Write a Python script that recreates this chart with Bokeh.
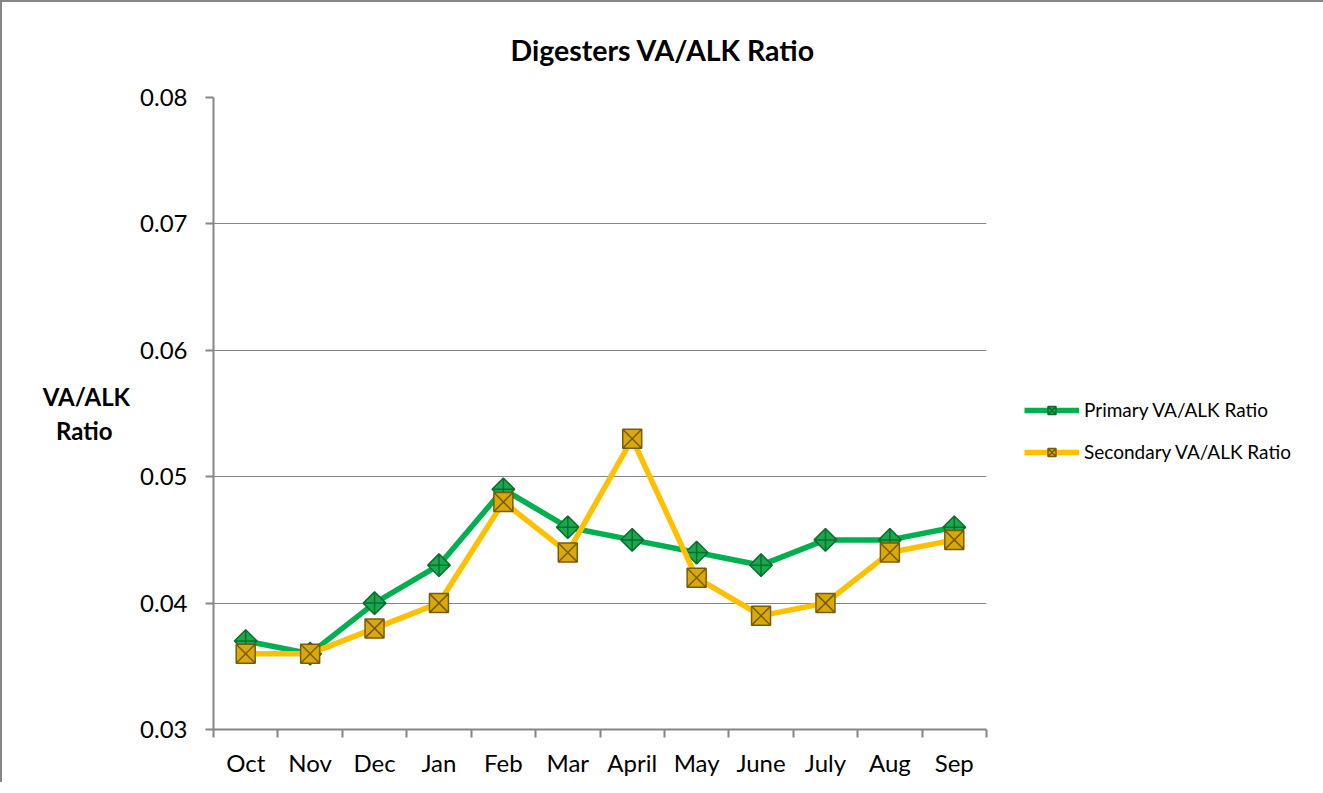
import math
from bokeh.plotting import figure
from bokeh.models import FixedTicker, Legend, LegendItem, NumeralTickFormatter, Range1d, ColumnDataSource
from bokeh.embed import file_html
from bokeh.resources import INLINE

months = ["Oct", "Nov", "Dec", "Jan", "Feb", "Mar", "April", "May", "June", "July", "Aug", "Sep"]
primary = [0.037, 0.036, 0.040, 0.043, 0.049, 0.046, 0.045, 0.044, 0.043, 0.045, 0.045, 0.046]
secondary = [0.036, 0.036, 0.038, 0.040, 0.048, 0.044, 0.053, 0.042, 0.039, 0.040, 0.044, 0.045]
y_ticks = [0.03, 0.04, 0.05, 0.06, 0.07, 0.08]

xpos = [i + 0.5 for i in range(len(months))]
src = ColumnDataSource(dict(x=xpos, month=months, primary=primary, secondary=secondary))

FONT = "Lato"
GRAY = "#868686"

p = figure(frame_width=773, frame_height=632, output_backend="svg", toolbar_location=None,
           x_range=Range1d(0, len(months)), y_range=Range1d(y_ticks[0], y_ticks[-1]),
           min_border_left=211, min_border_right=335, min_border_top=95, min_border_bottom=53,
           background_fill_color="white", border_fill_color="white")
p.styles = {"border-left": f"2px solid {GRAY}", "border-top": f"2px solid {GRAY}",
            "border-right": f"3px solid {GRAY}"}
p.outline_line_color = None

# title
p.title.text = "Digesters VA/ALK Ratio"
p.title.text_font = FONT
p.title.text_font_size = "28.5px"
p.title.text_font_style = "bold"
p.title.text_color = "black"
p.title.align = "left"
p.title.vertical_align = "top"
p.title.offset = 297
p.title.standoff = 58

# x axis
xt = FixedTicker(ticks=xpos, minor_ticks=list(range(len(months) + 1)))
p.xaxis.ticker = xt
p.xaxis.major_label_overrides = {x: m for x, m in zip(xpos, months)}
p.xaxis.major_tick_out = 0
p.xaxis.major_tick_in = 0
p.xaxis.minor_tick_out = 8
p.xaxis.minor_tick_in = 0
p.xaxis.minor_tick_line_color = GRAY
p.xaxis.minor_tick_line_width = 2
p.xaxis.axis_line_color = GRAY
p.xaxis.axis_line_width = 2
p.xaxis.major_label_text_font = FONT
p.xaxis.major_label_text_font_size = "24px"
p.xaxis.major_label_text_color = "black"
p.xaxis.major_label_standoff = 10
p.xgrid.visible = False

# y axis
p.yaxis.ticker = FixedTicker(ticks=y_ticks)
p.yaxis.formatter = NumeralTickFormatter(format="0.00")
p.yaxis.major_tick_out = 8
p.yaxis.major_tick_in = 0
p.yaxis.minor_tick_line_color = None
p.yaxis.major_tick_line_color = GRAY
p.yaxis.major_tick_line_width = 2
p.yaxis.axis_line_color = GRAY
p.yaxis.axis_line_width = 2
p.yaxis.major_label_text_font = FONT
p.yaxis.major_label_text_font_size = "24px"
p.yaxis.major_label_text_color = "black"
p.yaxis.major_label_standoff = 18
p.yaxis.axis_label = "VA/ALK\nRatio\u00a0\u00a0\u00a0"
p.yaxis.axis_label_orientation = "horizontal"
p.yaxis.axis_label_text_font = FONT
p.yaxis.axis_label_text_font_size = "24px"
p.yaxis.axis_label_text_font_style = "bold"
p.yaxis.axis_label_text_color = "black"
p.yaxis.axis_label_standoff = 7
p.ygrid.grid_line_color = GRAY
p.ygrid.grid_line_width = 1

# series
l1 = p.line("x", "primary", source=src, line_color="#00B050", line_width=5.5)
m1 = p.scatter("x", "primary", source=src, marker="square_x", size=16, angle=math.pi / 4,
               fill_color="#19A84C", line_color="#0B6E2F", line_width=1.5)
l2 = p.line("x", "secondary", source=src, line_color="#FFC000", line_width=5.5)
m2 = p.scatter("x", "secondary", source=src, marker="square_x", size=19,
               fill_color="#D9A90C", line_color="#7A5C00", line_width=1.5)

legend = Legend(items=[LegendItem(label="Primary VA/ALK Ratio", renderers=[l1, m1]),
                       LegendItem(label="Secondary VA/ALK Ratio", renderers=[l2, m2])],
                location=(38, 266), padding=0, margin=0, spacing=19,
                glyph_width=55, glyph_height=20, label_height=20, label_standoff=5,
                label_text_font=FONT, label_text_font_size="19px", label_text_color="black",
                border_line_color=None, background_fill_alpha=0)
p.add_layout(legend, "right")

open("out.html", "w").write(file_html(p, INLINE))
